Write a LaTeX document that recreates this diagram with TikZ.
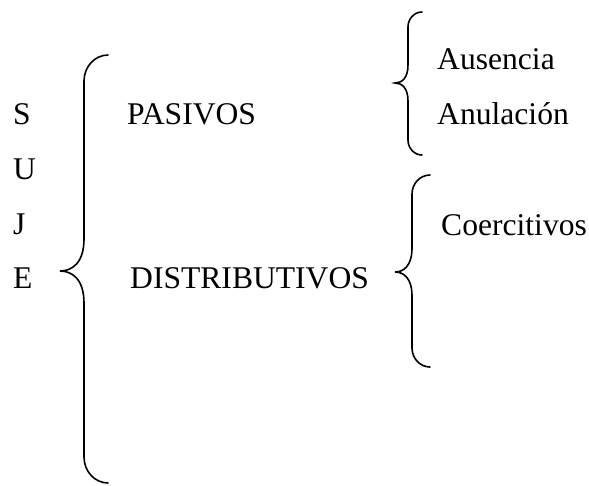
\documentclass[tikz,border=0pt]{standalone}
\usepackage{fontspec}
\setmainfont{Liberation Serif}
% #1 end x, #2 vertical x, #3 tip x, #4 top y, #5 tip y, #6 bottom y, #7 end curl, #8 tip curl
\newcommand{\curlybrace}[8]{%
  \draw[bracestroke] (#1,#4) .. controls (0.45*#1+0.55*#2,#4) and (#2,#4+0.45*#7) .. (#2,#4+#7)
    -- (#2,#5-#8) .. controls (#2,#5-0.25*#8) and (0.5*#2+0.5*#3,#5) .. (#3,#5)
    .. controls (0.5*#2+0.5*#3,#5) and (#2,#5+0.25*#8) .. (#2,#5+#8)
    -- (#2,#6-#7) .. controls (#2,#6-0.45*#7) and (0.45*#1+0.55*#2,#6) .. (#1,#6);}
\begin{document}
\begin{tikzpicture}[x=1pt,y=-1pt,
  txt/.style={anchor=base west,inner sep=0pt,font=\fontsize{31.6}{31.6}\selectfont},
  bracestroke/.style={line width=1.6pt,line cap=round}]
\useasboundingbox (0,0) rectangle (589,485);
% SUJE letters
\node[txt] (s) at (13,124) {S};
\node[txt] (u) at (13,179) {U};
\node[txt] (j) at (13,234) {J};
\node[txt] (e) at (13,288) {E};
% main braces
\curlybrace{108}{84}{60}{55}{271}{483}{26}{32}
\node[txt] (pasivos) at (127,124) {PASIVOS};
\node[txt] (distributivos) at (130,288) {DISTRIBUTIVOS};
% upper small brace
\curlybrace{422}{408}{395}{12}{83}{155}{15}{18}
\node[txt] (ausencia) at (437,69) {Ausencia};
\node[txt] (anulacion) at (437,124) {Anulación};
% lower small brace
\curlybrace{430}{412}{395}{175}{272}{367}{19}{24}
\node[txt] (coercitivos) at (441,235) {Coercitivos};
\end{tikzpicture}
\end{document}
